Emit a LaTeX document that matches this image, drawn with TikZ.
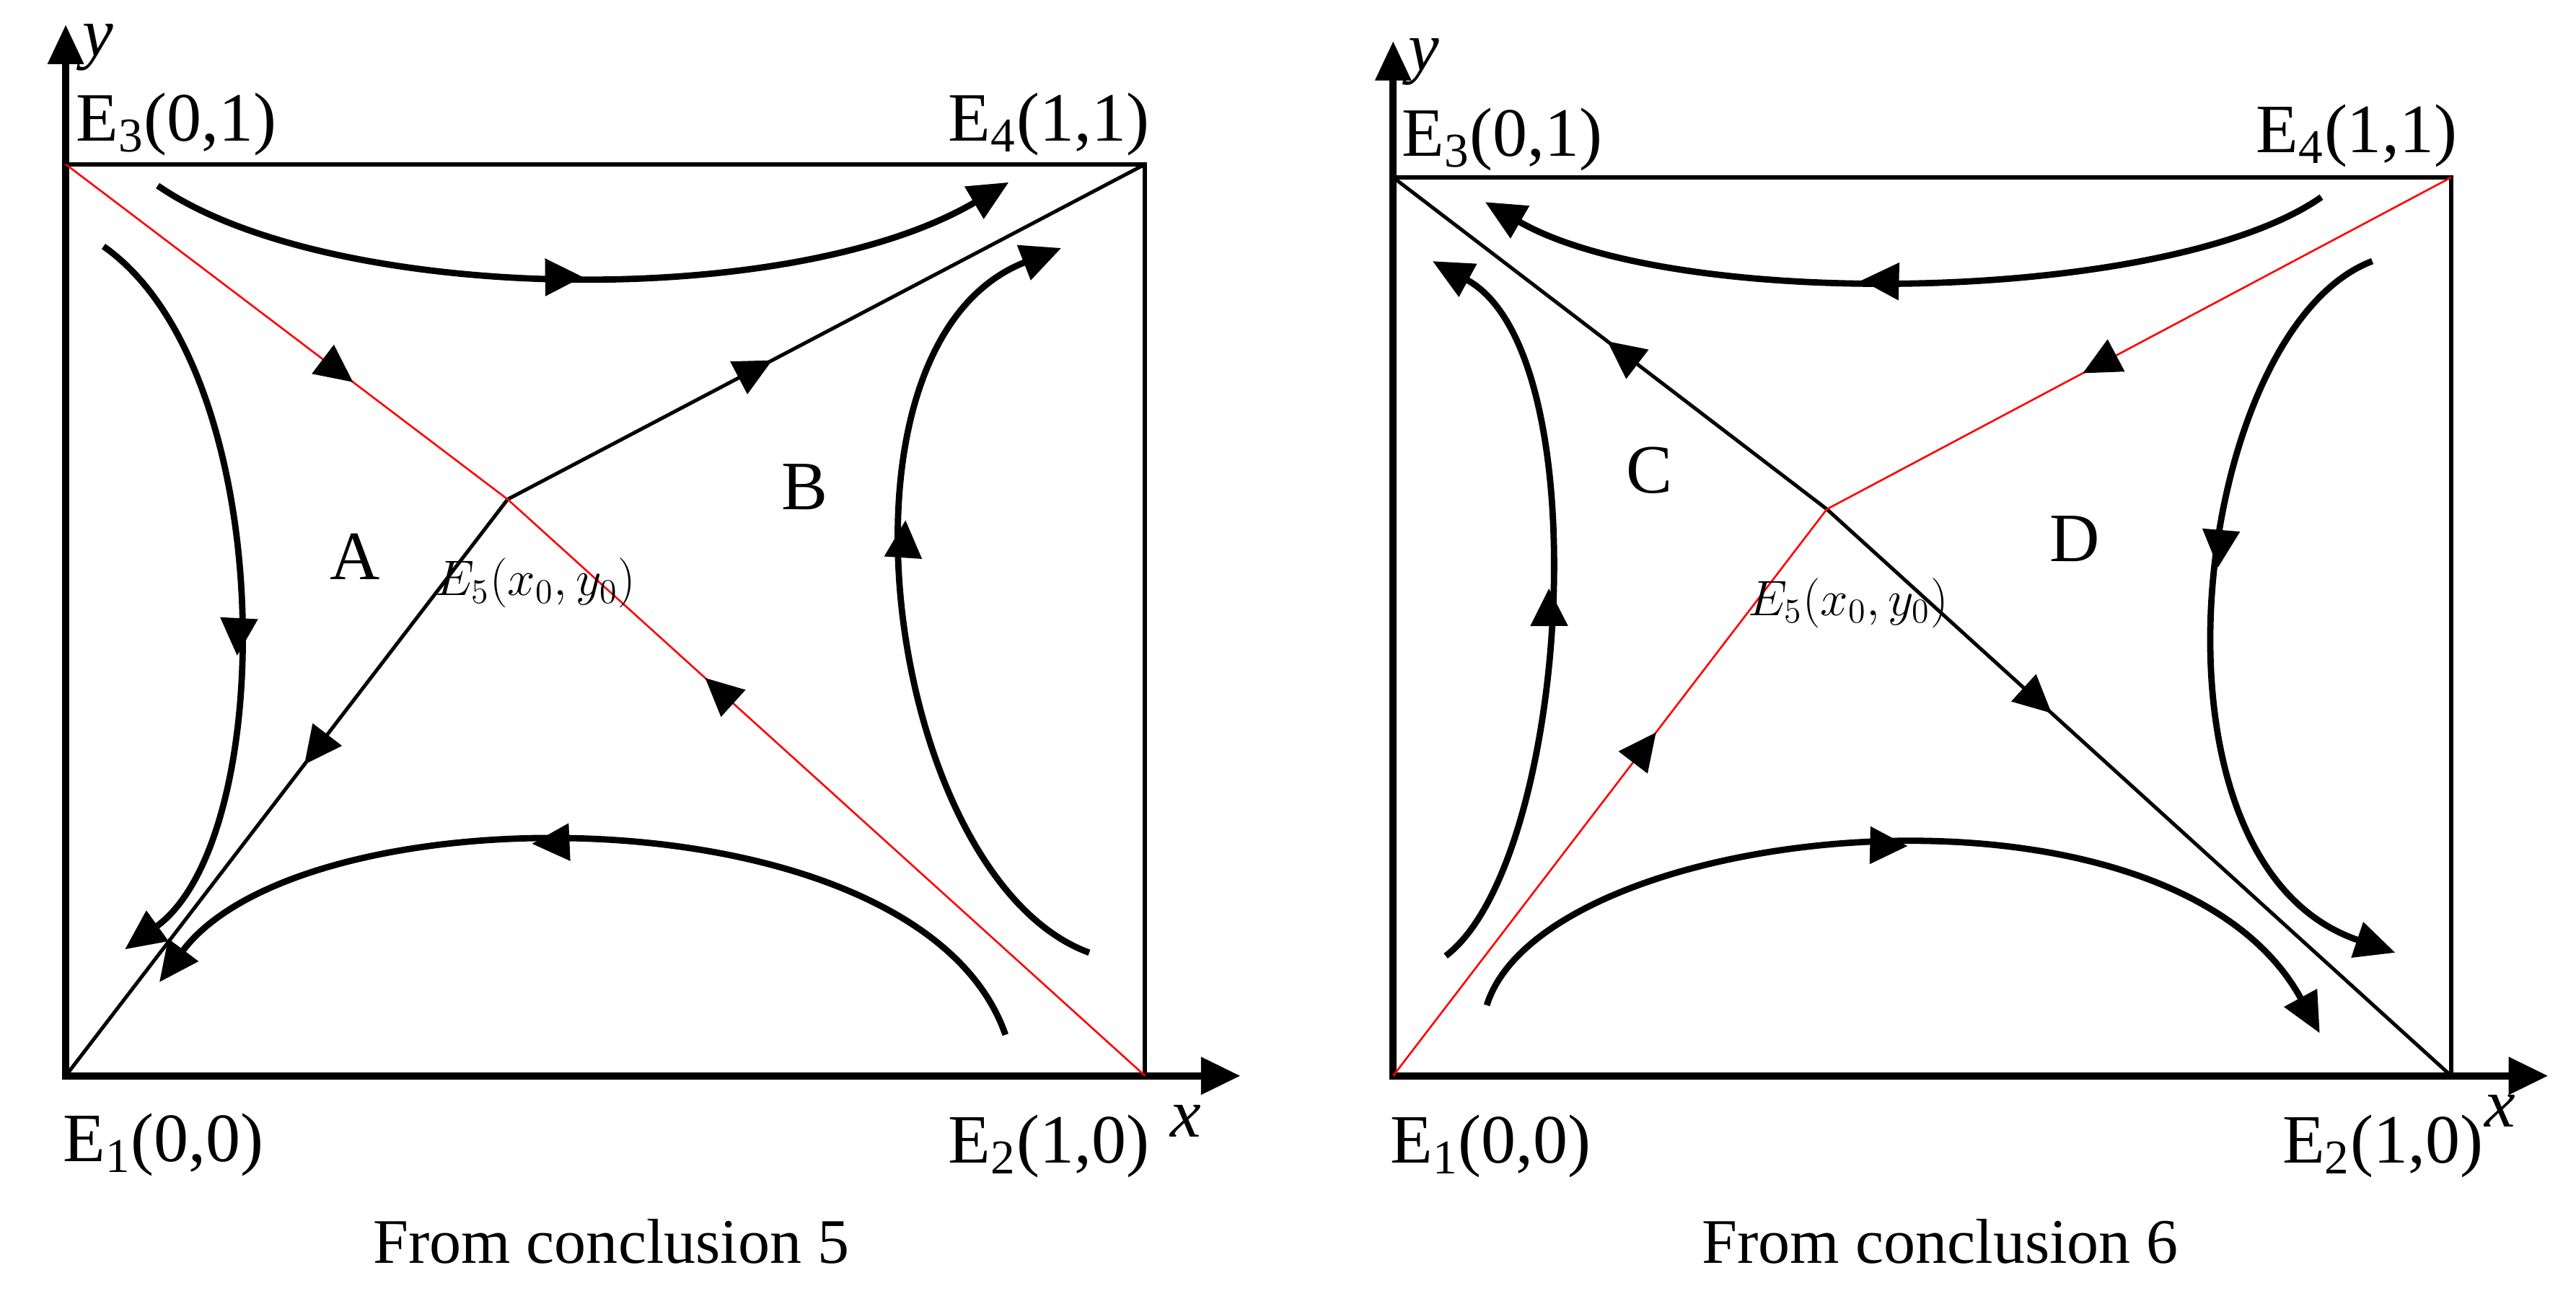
\documentclass[tikz,border=0pt]{standalone}
\usepackage{fontspec}
\setmainfont{Liberation Serif}
\usetikzlibrary{arrows.meta,decorations.markings}
\begin{document}
\begin{tikzpicture}[x=0.02cm,y=-0.02cm,
  axis/.style={line width=2.5pt, {Triangle[length=4.8mm,width=4.2mm]}-{Triangle[length=4.8mm,width=4.4mm]}},
  boxline/.style={line width=1.5pt},
  sep/.style={line width=1.25pt},
  redsep/.style={line width=0.65pt, red},
  traj/.style={line width=2.2pt, -{Triangle[length=4.9mm,width=4.4mm]}},
  midarr/.style={postaction={decorate}, decoration={markings, mark=at position #1 with {\arrow{Triangle[length=4.6mm,width=4.4mm,color=black]}}}},
  lab/.style={font=\fontsize{24}{28}\selectfont, inner sep=0pt},
  elab/.style={font=\fontsize{17.5}{20}\selectfont, inner sep=0pt},
  captxt/.style={font=\fontsize{22}{26}\selectfont, inner sep=0pt, anchor=base},
]
\useasboundingbox (0,0) rectangle (1568,789);

% ---------------- Left panel ----------------
\coordinate (L1) at (40,655);
\coordinate (L2) at (697,655);
\coordinate (L3) at (40,100);
\coordinate (L4) at (697,100);
\coordinate (L5) at (309,304);
\coordinate (Ly) at (40,15);
\coordinate (Lx) at (755,655);

\draw[boxline] (L3) -- (L4) -- (L2);
\draw[axis] (Ly) -- (L1) -- (Lx);

\draw[sep, midarr=0.415] (L5) -- (L4);
\draw[sep, midarr=0.46] (L5) -- (L1);
\draw[redsep, midarr=0.65] (L3) -- (L5);
\draw[redsep, midarr=0.69] (L2) -- (L5);

\draw[traj, midarr=0.5] (96,113) .. controls (200,185) and (480,190) .. (614,111);
\draw[traj, midarr=0.58] (63,150) .. controls (170,225) and (170,510) .. (76,578);
\draw[traj, midarr=0.57] (612,630) .. controls (560,480) and (185,480) .. (97,598);
\draw[traj, midarr=0.6] (663,580) .. controls (540,535) and (495,210) .. (646,151);

\node[lab, anchor=base west] (lE3) at (46,86) {E\textsubscript{3}(0,1)};
\node[lab, anchor=base west] (lE4) at (577,86) {E\textsubscript{4}(1,1)};
\node[lab, anchor=base west] (lE1) at (38,707) {E\textsubscript{1}(0,0)};
\node[lab, anchor=base west] (lE2) at (577,708) {E\textsubscript{2}(1,0)};
\node[lab, anchor=base west] (ly) at (50,34) {\textit{y}};
\node[lab, anchor=base west] (lx) at (712,692) {\textit{x}};
\node[lab, anchor=base] (lA) at (216,353) {A};
\node[lab, anchor=base] (lB) at (490,310) {B};
\node[elab] (lE5) at (326,355) {$E_5(x_0,y_0)$};
\node[captxt] (lcap) at (372,769) {From conclusion 5};

% ---------------- Right panel ----------------
\coordinate (R1) at (848,655);
\coordinate (R2) at (1492,655);
\coordinate (R3) at (848,108);
\coordinate (R4) at (1492,108);
\coordinate (R5) at (1112,310);
\coordinate (Ry) at (848,25);
\coordinate (Rx) at (1551,655);

\draw[boxline] (R3) -- (R4) -- (R2);
\draw[axis] (Ry) -- (R1) -- (Rx);

\draw[sep, midarr=0.506] (R5) -- (R3);
\draw[sep, midarr=0.36] (R5) -- (R2);
\draw[redsep, midarr=0.606] (R1) -- (R5);
\draw[redsep, midarr=0.59] (R4) -- (R5);

\draw[traj, midarr=0.55] (1413,120) .. controls (1320,185) and (1020,190) .. (904,123);
\draw[traj, midarr=0.52] (880,582) .. controls (955,525) and (975,215) .. (872,159);
\draw[traj, midarr=0.5] (905,612) .. controls (940,500) and (1320,460) .. (1412,629);
\draw[traj, midarr=0.44] (1444,159) .. controls (1335,200) and (1295,525) .. (1458,580);

\node[lab, anchor=base west] (rE3) at (853,95) {E\textsubscript{3}(0,1)};
\node[lab, anchor=base west] (rE4) at (1373,93) {E\textsubscript{4}(1,1)};
\node[lab, anchor=base west] (rE1) at (846,708) {E\textsubscript{1}(0,0)};
\node[lab, anchor=base west] (rE2) at (1389,708) {E\textsubscript{2}(1,0)};
\node[lab, anchor=base west] (ry) at (857,43) {\textit{y}};
\node[lab, anchor=base west] (rx) at (1512,686) {\textit{x}};
\node[lab, anchor=base] (rC) at (1004,300) {C};
\node[lab, anchor=base] (rD) at (1263,342) {D};
\node[elab] (rE5) at (1125,367) {$E_5(x_0,y_0)$};
\node[captxt] (rcap) at (1181,769) {From conclusion 6};
\end{tikzpicture}
\end{document}
